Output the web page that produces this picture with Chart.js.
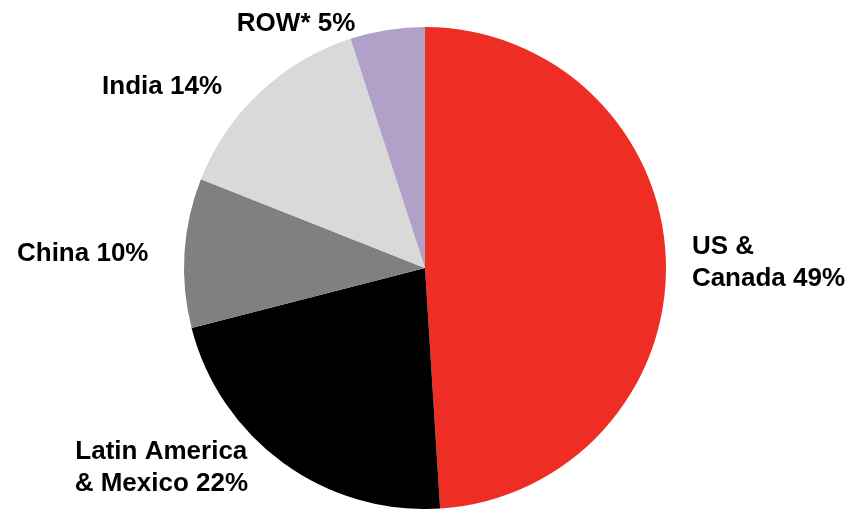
<!DOCTYPE html>
<html lang="en">
<head>
<meta charset="utf-8">
<title>Revenue by region</title>
<style>
  html, body { margin: 0; padding: 0; background: #fff; }
  #wrap { width: 852px; height: 509px; position: relative; }
</style>
</head>
<body>
<div id="wrap"><canvas id="regionChart"></canvas></div>

<script src="https://cdn.jsdelivr.net/npm/chart.js@4.4.1/dist/chart.umd.min.js"></script>
<script>
// regions, clockwise from 12 o'clock
const regions = ['US & Canada', 'Latin America & Mexico', 'China', 'India', 'ROW*'];
const shares = [49, 22, 10, 14, 5];
const sliceColors = ['#EE2D24', '#000000', '#808080', '#D9D9D9', '#B1A0C7'];

// label lines as printed next to each slice
const labelLines = [
  ['US &', 'Canada 49%'],
  ['Latin America', '& Mexico 22%'],
  ['China 10%'],
  ['India 14%'],
  ['ROW* 5%']
];

// where each label sits, relative to the slice's outer edge at its mid angle
const labelLayout = [
  { dx: 26, dy: 2, align: 'left' },
  { dx: -122, dy: 5, align: 'center' },
  { dx: -36, dy: 1, align: 'right' },
  { dx: -38, dy: -5, align: 'right' },
  { dx: -32, dy: -6, align: 'right' }
];

const outsideLabels = {
  id: 'outsideLabels',
  afterDatasetsDraw(chart) {
    const ctx = chart.ctx;
    const meta = chart.getDatasetMeta(0);
    ctx.save();
    ctx.font = 'bold 26px "Liberation Sans", Arial, sans-serif';
    ctx.fillStyle = '#000';
    ctx.textBaseline = 'middle';
    meta.data.forEach((arc, i) => {
      const p = arc.getProps(['x', 'y', 'startAngle', 'endAngle', 'outerRadius'], true);
      const mid = (p.startAngle + p.endAngle) / 2;
      const ex = p.x + Math.cos(mid) * p.outerRadius;
      const ey = p.y + Math.sin(mid) * p.outerRadius;
      const lay = labelLayout[i];
      const lines = labelLines[i];
      const lineH = 32;
      const top = ey + lay.dy - (lines.length - 1) * lineH / 2;
      ctx.textAlign = lay.align;
      lines.forEach((t, j) => ctx.fillText(t, ex + lay.dx, top + j * lineH));
    });
    ctx.restore();
  }
};

new Chart(document.getElementById('regionChart'), {
  type: 'pie',
  data: {
    labels: regions,
    datasets: [{
      data: shares,
      backgroundColor: sliceColors,
      borderWidth: 0
    }]
  },
  options: {
    responsive: true,
    maintainAspectRatio: false,
    animation: false,
    layout: { padding: { top: 27, bottom: 0, left: 0, right: 2 } },
    plugins: {
      legend: { display: false },
      tooltip: { enabled: false }
    }
  },
  plugins: [outsideLabels]
});
</script>
</body>
</html>
